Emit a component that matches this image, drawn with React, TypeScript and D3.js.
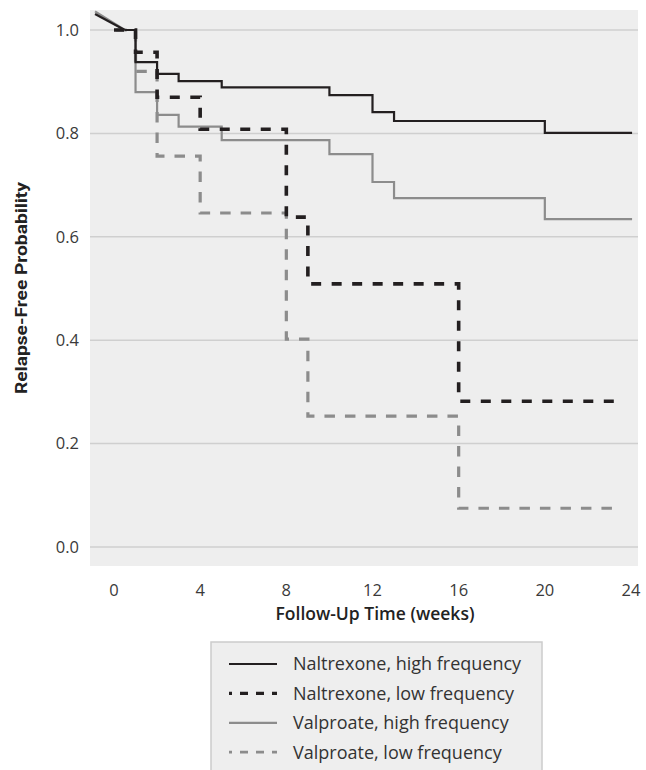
import React from 'react';
import * as d3 from 'd3';

// lead-in segment drawn before the first step
const leadT = [-0.88, 0.5];

const nalHighT = [0.5, 1, 2, 3, 5, 10, 12, 13, 20, 24.05];
const nalHighS = [1.0, 0.938, 0.915, 0.901, 0.889, 0.874, 0.841, 0.824, 0.801, 0.801];
const nalHighLead = [1.031, 1.0];

const nalLowT = [0, 1, 2, 4, 8, 9, 16, 23.5];
const nalLowS = [1.0, 0.957, 0.87, 0.808, 0.638, 0.509, 0.282, 0.282];

const valHighT = [0.5, 1, 2, 3, 5, 10, 12, 13, 20, 24.05];
const valHighS = [1.0, 0.88, 0.836, 0.813, 0.787, 0.76, 0.706, 0.675, 0.634, 0.634];
const valHighLead = [1.036, 1.0];

const valLowT = [0.1, 1, 2, 4, 8, 9, 16, 23.35];
const valLowS = [1.0, 0.92, 0.756, 0.646, 0.402, 0.253, 0.075, 0.075];

const xTicks = [0, 4, 8, 12, 16, 20, 24];
const yTicks = [0, 0.2, 0.4, 0.6, 0.8, 1.0];

const legendLabels = [
  'Naltrexone, high frequency',
  'Naltrexone, low frequency',
  'Valproate, high frequency',
  'Valproate, low frequency',
];

const BLACK = '#231f20';
const GRAY = '#8c8c8c';

const styles = [
  { color: BLACK, width: 2.2, dash: null },
  { color: BLACK, width: 3.6, dash: '10 10.5' },
  { color: GRAY, width: 2.2, dash: null },
  { color: GRAY, width: 3.2, dash: '10.5 10' },
];

export default function App() {
  const panel = { left: 90, right: 638, top: 10, bottom: 566 };

  const x = d3.scaleLinear().domain([0, 24]).range([114, 631]);
  const y = d3.scaleLinear().domain([0, 1]).range([547, 30]);

  const step = d3
    .line<[number, number]>()
    .x(d => x(d[0]))
    .y(d => y(d[1]))
    .curve(d3.curveStepAfter);
  const straight = d3
    .line<[number, number]>()
    .x(d => x(d[0]))
    .y(d => y(d[1]));

  const zip = (t: number[], s: number[]) => t.map((v, i) => [v, s[i]] as [number, number]);

  const series = [
    { pts: zip(nalHighT, nalHighS), lead: nalHighLead, st: styles[0] },
    { pts: zip(nalLowT, nalLowS), lead: null, st: styles[1] },
    { pts: zip(valHighT, valHighS), lead: valHighLead, st: styles[2] },
    { pts: zip(valLowT, valLowS), lead: null, st: styles[3] },
  ];
  // draw grey curves first, black on top
  const drawOrder = [3, 2, 1, 0];

  const font = '"Open Sans", Lato, sans-serif';

  return (
    <div style={{ position: 'absolute', left: 0, top: 0 }}>
      <svg width={646} height={770} style={{ display: 'block' }}>
        <rect x={0} y={0} width={646} height={770} fill="#ffffff" />
        <rect
          x={panel.left}
          y={panel.top}
          width={panel.right - panel.left}
          height={panel.bottom - panel.top}
          fill="#eeeeee"
        />
        {yTicks.map(t => (
          <line
            key={'g' + t}
            x1={panel.left}
            x2={panel.right}
            y1={y(t)}
            y2={y(t)}
            stroke="#cfcfcf"
            strokeWidth={1.5}
          />
        ))}
        {yTicks.map(t => (
          <text
            key={'yl' + t}
            x={79}
            y={y(t)}
            dy="0.35em"
            textAnchor="end"
            fontFamily={font}
            fontSize={16.5}
            fill="#3a3a3a"
          >
            {t.toFixed(1)}
          </text>
        ))}
        {xTicks.map(t => (
          <text
            key={'xl' + t}
            x={x(t)}
            y={590}
            dy="0.35em"
            textAnchor="middle"
            fontFamily={font}
            fontSize={16.5}
            fill="#3a3a3a"
          >
            {t}
          </text>
        ))}
        <text
          x={375}
          y={614}
          dy="0.35em"
          textAnchor="middle"
          fontFamily={font}
          fontSize={17.5}
          fontWeight={600}
          fill="#222"
        >
          Follow-Up Time (weeks)
        </text>
        <text
          transform="translate(21,288) rotate(-90)"
          dy="0.35em"
          textAnchor="middle"
          fontFamily="Roboto, sans-serif"
          fontSize={16.5}
          fontWeight={700}
          fill="#222"
          textLength={212}
          lengthAdjust="spacingAndGlyphs"
        >
          Relapse-Free Probability
        </text>

        {drawOrder.map(i => {
          const s = series[i];
          return (
            <g key={'s' + i}>
              {s.lead && (
                <path
                  d={straight(zip(leadT, s.lead)) || ''}
                  fill="none"
                  stroke={s.st.color}
                  strokeWidth={s.st.width}
                />
              )}
              <path
                d={step(s.pts) || ''}
                fill="none"
                stroke={s.st.color}
                strokeWidth={s.st.width}
                strokeDasharray={s.st.dash || undefined}
              />
            </g>
          );
        })}

        <rect x={211} y={642} width={331} height={140} fill="#eeeeee" stroke="#cccccc" strokeWidth={1.5} />
        {legendLabels.map((lab, i) => {
          const st = styles[i];
          const ly = 664 + i * 29.4;
          return (
            <g key={lab}>
              <line
                x1={229}
                x2={277}
                y1={ly}
                y2={ly}
                stroke={st.color}
                strokeWidth={st.dash ? st.width - 0.4 : st.width}
                strokeDasharray={st.dash ? '8 8' : undefined}
                strokeDashoffset={st.dash ? 5 : undefined}
              />
              <text
                x={293}
                y={ly}
                dy="0.35em"
                fontFamily={font}
                fontSize={18}
                fill="#333"
              >
                {lab}
              </text>
            </g>
          );
        })}
      </svg>
    </div>
  );
}
